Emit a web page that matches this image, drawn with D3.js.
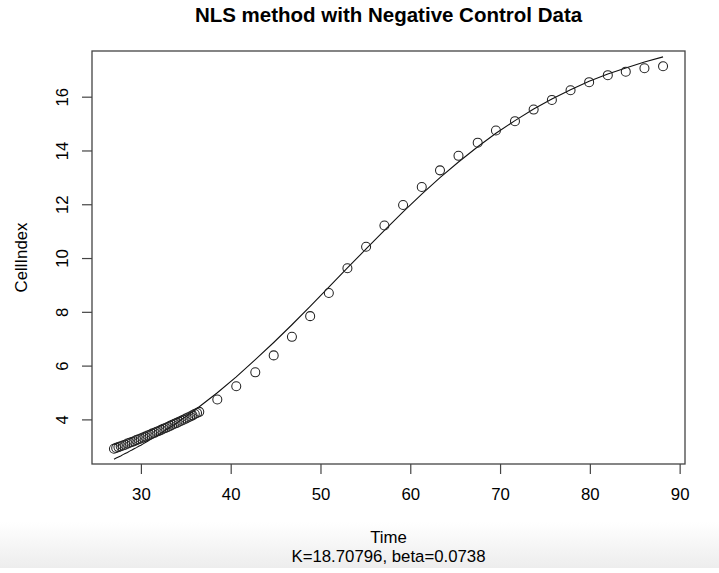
<!DOCTYPE html>
<html>
<head>
<meta charset="utf-8">
<script src="https://cdn.jsdelivr.net/npm/d3@7"></script>
<style>
    body { margin: 0; background: #fff; }
    text { font-family: "Liberation Sans", Arial, Helvetica, sans-serif; fill: #000; }
</style>
</head>
<body>
<div id="nls-plot"></div>
<script>

// time (hours) of each measurement
const timeHours = [
    27.00, 27.25, 27.50, 27.75, 28.00, 28.25, 28.50, 28.75, 29.00, 29.25,
    29.50, 29.75, 30.00, 30.25, 30.50, 30.75, 31.00, 31.25, 31.50, 31.75,
    32.00, 32.25, 32.50, 32.75, 33.00, 33.25, 33.50, 33.75, 34.00, 34.25,
    34.50, 34.75, 35.00, 35.25, 35.50, 35.75, 36.00, 36.25, 36.50,
    38.51, 40.62, 42.74, 44.79, 46.82, 48.85, 50.93, 53.00, 55.08, 57.12,
    59.20, 61.28, 63.31, 65.37, 67.51, 69.54, 71.66, 73.74, 75.77, 77.85,
    79.92, 82.00, 84.00, 86.08, 88.15
];

// observed cell index
const cellIndex = [
    2.91, 2.94, 2.97, 3.00, 3.03, 3.06, 3.10, 3.13, 3.16, 3.19,
    3.23, 3.26, 3.29, 3.33, 3.36, 3.40, 3.43, 3.47, 3.50, 3.54,
    3.57, 3.61, 3.65, 3.68, 3.72, 3.76, 3.80, 3.84, 3.87, 3.91,
    3.95, 3.99, 4.03, 4.07, 4.11, 4.15, 4.20, 4.24, 4.28,
    4.74, 5.23, 5.75, 6.38, 7.07, 7.84, 8.70, 9.62, 10.42, 11.21,
    11.97, 12.64, 13.26, 13.80, 14.29, 14.74, 15.09, 15.52, 15.88, 16.24,
    16.54, 16.80, 16.93, 17.06, 17.13
];

// nls fitted values at the same times
const fittedIndex = [
    2.52, 2.56, 2.60, 2.64, 2.69, 2.73, 2.77, 2.82, 2.86, 2.91,
    2.95, 3.00, 3.04, 3.09, 3.14, 3.19, 3.24, 3.29, 3.34, 3.39,
    3.44, 3.49, 3.54, 3.60, 3.65, 3.71, 3.76, 3.82, 3.87, 3.93,
    3.99, 4.05, 4.10, 4.16, 4.22, 4.28, 4.35, 4.41, 4.47,
    4.99, 5.58, 6.22, 6.86, 7.52, 8.20, 8.92, 9.63, 10.34, 11.03,
    11.72, 12.38, 12.99, 13.57, 14.14, 14.64, 15.11, 15.54, 15.91, 16.26,
    16.57, 16.84, 17.07, 17.29, 17.48
];

const xTicks = [30, 40, 50, 60, 70, 80, 90];
const yTicks = [4, 6, 8, 10, 12, 14, 16];

const plotTitle = "NLS method with Negative Control Data";
const xLabel = "Time";
const yLabel = "CellIndex";
const subLabel = "K=18.70796, beta=0.0738";

class NlsPlot {

    constructor(parentElement) {
        this.parentElement = parentElement;
        this.wrangleData();
        this.initVis();
    }

    wrangleData() {
        let vis = this;
        vis.points = timeHours.map((t, i) => ({t: t, y: cellIndex[i]}));
        vis.fit = timeHours.map((t, i) => ({t: t, y: fittedIndex[i]}));
    }

    initVis() {
        let vis = this;

        vis.margin = {top: 51, right: 34, bottom: 109, left: 92};
        vis.width = 719 - vis.margin.left - vis.margin.right;
        vis.height = 573 - vis.margin.top - vis.margin.bottom;

        let root = d3.select("#" + vis.parentElement)
            .append("svg")
            .attr("width", 719)
            .attr("height", 573);

        // faint grey band at the bottom of the screenshot
        let grad = root.append("defs").append("linearGradient")
            .attr("id", "band")
            .attr("x1", 0).attr("y1", 0).attr("x2", 0).attr("y2", 1);
        grad.append("stop").attr("offset", "0%").attr("stop-color", "#ffffff");
        grad.append("stop").attr("offset", "100%").attr("stop-color", "#ededed");
        root.append("rect")
            .attr("x", 0).attr("y", 522)
            .attr("width", 719).attr("height", 46)
            .attr("fill", "url(#band)");

        let svg = root.append("g")
            .attr("transform", "translate(" + vis.margin.left + "," + vis.margin.top + ")");

        // R style range: data extent padded by 4%
        let padded = function(ext) {
            let r = ext[1] - ext[0];
            return [ext[0] - 0.04 * r, ext[1] + 0.04 * r];
        };

        vis.x = d3.scaleLinear()
            .domain(padded(d3.extent(timeHours)))
            .range([0, vis.width]);

        vis.y = d3.scaleLinear()
            .domain(padded(d3.extent(cellIndex)))
            .range([vis.height, 0]);

        let xAxis = d3.axisBottom(vis.x)
            .tickValues(xTicks)
            .tickSize(10)
            .tickSizeOuter(0)
            .tickPadding(14);

        let yAxis = d3.axisLeft(vis.y)
            .tickValues(yTicks)
            .tickSize(10)
            .tickSizeOuter(0);

        let gx = svg.append("g")
            .attr("class", "x axis")
            .attr("transform", "translate(0," + vis.height + ")")
            .call(xAxis);

        let gy = svg.append("g")
            .attr("class", "y axis")
            .call(yAxis);

        [gx, gy].forEach(function(g) {
            g.select(".domain").remove();
            g.selectAll(".tick line").attr("stroke", "#444").attr("stroke-width", 1.2);
            g.selectAll(".tick text")
                .style("font-size", "16.8px")
                .attr("fill", "#000");
        });

        // y labels run parallel to the axis
        gy.selectAll(".tick text")
            .attr("x", null)
            .attr("y", 0)
            .attr("text-anchor", "middle")
            .attr("transform", "translate(-29.5,0) rotate(-90)")
            .attr("dy", "0.35em");

        // plot frame
        svg.append("rect")
            .attr("x", 0).attr("y", 0)
            .attr("width", vis.width).attr("height", vis.height)
            .attr("fill", "none")
            .attr("stroke", "#444")
            .attr("stroke-width", 1.3);

        // fitted curve
        let line = d3.line()
            .x(d => vis.x(d.t))
            .y(d => vis.y(d.y));

        svg.append("path")
            .datum(vis.fit)
            .attr("d", line)
            .attr("fill", "none")
            .attr("stroke", "#111")
            .attr("stroke-width", 1.1);

        // observed points, open circles
        svg.selectAll("circle.pt")
            .data(vis.points)
            .enter()
            .append("circle")
            .attr("class", "pt")
            .attr("cx", d => vis.x(d.t))
            .attr("cy", d => vis.y(d.y))
            .attr("r", 4.5)
            .attr("fill", "none")
            .attr("stroke", "#222")
            .attr("stroke-width", 1.05);

        // titles
        root.append("text")
            .attr("x", vis.margin.left + vis.width / 2)
            .attr("y", 21.5)
            .attr("text-anchor", "middle")
            .style("font-size", "20.5px")
            .style("font-weight", "bold")
            .text(plotTitle);

        root.append("text")
            .attr("x", vis.margin.left + vis.width / 2)
            .attr("y", 543)
            .attr("text-anchor", "middle")
            .style("font-size", "16.8px")
            .text(xLabel);

        root.append("text")
            .attr("x", vis.margin.left + vis.width / 2)
            .attr("y", 562)
            .attr("text-anchor", "middle")
            .style("font-size", "16.8px")
            .text(subLabel);

        root.append("text")
            .attr("transform", "translate(27," + (vis.margin.top + vis.height / 2) + ") rotate(-90)")
            .attr("text-anchor", "middle")
            .style("font-size", "16.8px")
            .text(yLabel);
    }
}

new NlsPlot("nls-plot");

</script>
</body>
</html>
